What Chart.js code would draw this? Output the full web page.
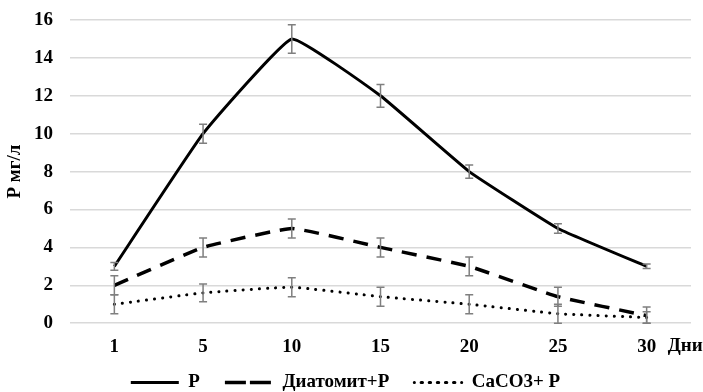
<!DOCTYPE html>
<html>
<head>
<meta charset="utf-8">
<script src="https://cdn.jsdelivr.net/npm/chart.js@4"></script>
<style>
  html, body { margin: 0; padding: 0; background: #fff; }
  #wrap { width: 703px; height: 392px; }
</style>
</head>
<body>
<div id="wrap"><canvas id="myChart"></canvas></div>
<script>
const days = ["1", "5", "10", "15", "20", "25", "30"];

const pValues = [3, 10, 15, 12, 8, 5, 3];
const pErr = [0.2, 0.5, 0.75, 0.6, 0.35, 0.25, 0.12];

const diatomitValues = [2, 4, 5, 4, 3, 1.4, 0.4];
const diatomitErr = [0.5, 0.5, 0.5, 0.5, 0.5, 0.5, 0.45];

const caco3Values = [1, 1.6, 1.9, 1.4, 1.0, 0.5, 0.3];
const caco3Err = [0.5, 0.47, 0.5, 0.5, 0.5, 0.5, 0.3];

const yTicks = [0, 2, 4, 6, 8, 10, 12, 14, 16];

const serif = "'Liberation Serif', 'DejaVu Serif', serif";

// error bars in grey, drawn through the scales
const errorBars = {
	id: "errorBars",
	afterDatasetsDraw(chart) {
		const ctx = chart.ctx;
		const x = chart.scales.x;
		const y = chart.scales.y;
		ctx.save();
		ctx.strokeStyle = "#7f7f7f";
		ctx.lineWidth = 1.5;
		ctx.setLineDash([]);
		chart.data.datasets.forEach((ds) => {
			ds.data.forEach((v, i) => {
				const px = x.getPixelForValue(i);
				const top = y.getPixelForValue(v + ds.errors[i]);
				const bot = y.getPixelForValue(Math.max(0, v - ds.errors[i]));
				ctx.beginPath();
				ctx.moveTo(px, top); ctx.lineTo(px, bot);
				ctx.moveTo(px - 4, top); ctx.lineTo(px + 4, top);
				ctx.moveTo(px - 4, bot); ctx.lineTo(px + 4, bot);
				ctx.stroke();
			});
		});
		ctx.restore();
	},
	afterDraw(chart) {
		// "Дни" sits on the tick row, right of the last label
		const ctx = chart.ctx;
		const x = chart.scales.x;
		const last = x.getPixelForValue(days.length - 1);
		ctx.save();
		ctx.font = "bold 19px " + serif;
		ctx.fillStyle = "#000";
		ctx.textBaseline = "middle";
		ctx.textAlign = "left";
		ctx.fillText("Дни", last + 21, x.top + 23);
		ctx.restore();
	}
};

const ctx = document.getElementById("myChart").getContext("2d");

new Chart(ctx, {
	type: "line",
	data: {
		labels: days,
		datasets: [{
			data: pValues,
			errors: pErr,
			label: "P",
			borderColor: "#000",
			backgroundColor: "#000",
			borderWidth: 3,
			pointRadius: 0,
			tension: 0.1,
			fill: false,
		}, {
			data: diatomitValues,
			errors: diatomitErr,
			label: "Диатомит+P",
			borderColor: "#000",
			backgroundColor: "#000",
			borderWidth: 3.5,
			borderDash: [15, 10],
			pointRadius: 0,
			tension: 0.1,
			fill: false,
		}, {
			data: caco3Values,
			errors: caco3Err,
			label: "CaCO3+ P",
			borderColor: "#000",
			backgroundColor: "#000",
			borderWidth: 3,
			borderDash: [0.1, 8],
			borderCapStyle: "round",
			pointRadius: 0,
			tension: 0.1,
			fill: false,
		}]
	},
	options: {
		responsive: true,
		maintainAspectRatio: false,
		animation: false,
		layout: { padding: { top: 20, right: 12, left: 0, bottom: -10 } },
		plugins: {
			tooltip: { enabled: false },
			legend: {
				position: "bottom",
				labels: {
					boxWidth: 48,
					boxHeight: 0,
					padding: 6,
					color: "#000",
					font: { family: serif, size: 19, weight: "bold" },
					generateLabels(chart) {
						const items = Chart.defaults.plugins.legend.labels.generateLabels(chart);
						items.forEach((it, i) => {
							const ds = chart.data.datasets[i];
							it.lineDash = ds.borderDash || [];
							it.lineCap = ds.borderCapStyle || "butt";
							it.lineWidth = ds.borderWidth;
							if (i < items.length - 1) it.text = ds.label + "\u2003";
						});
						return items;
					}
				}
			}
		},
		scales: {
			x: {
				offset: true,
				afterFit: (axis) => { axis.height += 5; },
				grid: { display: false },
				border: { display: false },
				ticks: {
					color: "#000",
					padding: 4,
					font: { family: serif, size: 19, weight: "bold" }
				}
			},
			y: {
				min: 0,
				max: 16,
				afterBuildTicks: (axis) => { axis.ticks = yTicks.map(v => ({ value: v })); },
				afterFit: (axis) => { axis.width = 70; },
				grid: { color: "#d9d9d9", lineWidth: 1.5, drawTicks: true, tickLength: 14, tickColor: "rgba(0,0,0,0)" },
				border: { display: false },
				title: {
					display: true,
					text: "P мг/л",
					color: "#000",
					padding: { top: 4, bottom: 8 },
					font: { family: serif, size: 19, weight: "bold" }
				},
				ticks: {
					color: "#000",
					padding: 3,
					font: { family: serif, size: 19, weight: "bold" }
				}
			}
		}
	},
	plugins: [errorBars]
});
</script>
</body>
</html>
